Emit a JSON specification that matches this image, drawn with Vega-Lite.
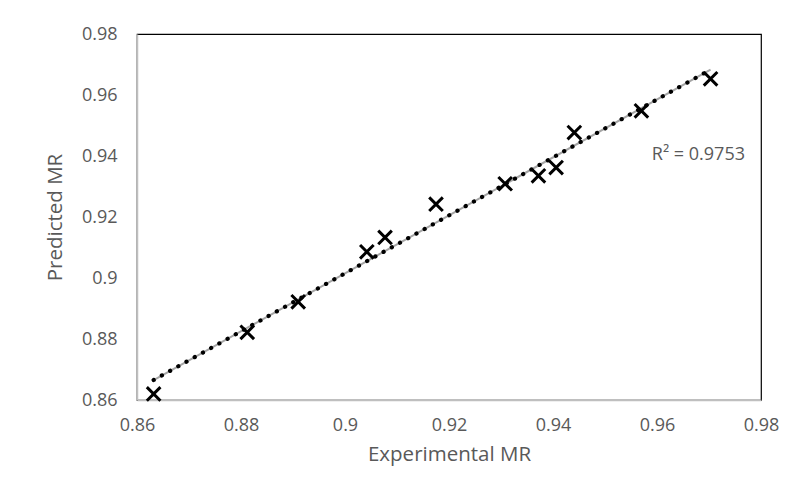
{
  "$schema": "https://vega.github.io/schema/vega-lite/v6.json",
  "autosize": {"type": "none"},
  "padding": {"left": 137, "top": 34, "right": 33, "bottom": 102},
  "width": 624,
  "height": 366,
  "background": "white",
  "config": {
    "view": {"stroke": "#000000", "strokeWidth": 1.2},
    "font": "Open Sans"
  },
  "datasets": {
    "points": [
      {"exp": 0.8632, "pred": 0.8620},
      {"exp": 0.8812, "pred": 0.8822},
      {"exp": 0.8910, "pred": 0.8922},
      {"exp": 0.9042, "pred": 0.9086},
      {"exp": 0.9077, "pred": 0.9133},
      {"exp": 0.9175, "pred": 0.9242},
      {"exp": 0.9308, "pred": 0.9309},
      {"exp": 0.9372, "pred": 0.9335},
      {"exp": 0.9406, "pred": 0.9362},
      {"exp": 0.9441, "pred": 0.9477},
      {"exp": 0.9570, "pred": 0.9548},
      {"exp": 0.9703, "pred": 0.9653}
    ],
    "note": [
      {"exp": 0.959, "pred": 0.9403, "label": "R² = 0.9753"}
    ]
  },
  "layer": [
    {
      "data": {"name": "points"},
      "transform": [{"regression": "pred", "on": "exp", "method": "linear"}],
      "mark": {"type": "line", "color": "#a6a6a6", "strokeWidth": 2},
      "encoding": {
        "x": {"field": "exp", "type": "quantitative"},
        "y": {"field": "pred", "type": "quantitative"}
      }
    },
    {
      "data": {"name": "points"},
      "transform": [{"regression": "pred", "on": "exp", "method": "linear"}],
      "mark": {"type": "line", "color": "#000000", "strokeWidth": 4.2, "strokeCap": "round", "strokeDash": [0.1, 9.3]},
      "encoding": {
        "x": {"field": "exp", "type": "quantitative"},
        "y": {"field": "pred", "type": "quantitative"}
      }
    },
    {
      "data": {"name": "points"},
      "mark": {"type": "point", "shape": "M-1,-1L1,1M-1,1L1,-1", "filled": false, "stroke": "#000000", "strokeWidth": 3, "size": 185, "opacity": 1},
      "encoding": {
        "x": {
          "field": "exp", "type": "quantitative",
          "scale": {"domain": [0.86, 0.98], "nice": false, "zero": false},
          "axis": {
            "title": "Experimental MR",
            "values": [0.86, 0.88, 0.9, 0.92, 0.94, 0.96, 0.98],
            "format": "~g",
            "grid": false, "ticks": false,
            "domainColor": "#bfbfbf", "domainWidth": 1.5,
            "labelColor": "#595959", "labelFontSize": 18, "labelFont": "Open Sans",
            "labelPadding": 16, "labelFlush": false, "labelOverlap": false,
            "titleColor": "#595959", "titleFontSize": 20.5, "titleFont": "Open Sans", "titleFontWeight": "normal",
            "titlePadding": 10
          }
        },
        "y": {
          "field": "pred", "type": "quantitative",
          "scale": {"domain": [0.86, 0.98], "nice": false, "zero": false},
          "axis": {
            "title": "Predicted MR",
            "values": [0.86, 0.88, 0.9, 0.92, 0.94, 0.96, 0.98],
            "format": "~g",
            "grid": false, "ticks": false,
            "domainColor": "#bfbfbf", "domainWidth": 1.5,
            "labelColor": "#595959", "labelFontSize": 18, "labelFont": "Open Sans",
            "labelPadding": 20, "labelFlush": false, "labelOverlap": false,
            "titleColor": "#595959", "titleFontSize": 20.5, "titleFont": "Open Sans", "titleFontWeight": "normal",
            "titlePadding": 16
          }
        }
      }
    },
    {
      "data": {"name": "note"},
      "mark": {"type": "text", "align": "left", "baseline": "middle", "color": "#595959", "fontSize": 18, "font": "Open Sans"},
      "encoding": {
        "x": {"field": "exp", "type": "quantitative"},
        "y": {"field": "pred", "type": "quantitative"},
        "text": {"field": "label"}
      }
    }
  ]
}
